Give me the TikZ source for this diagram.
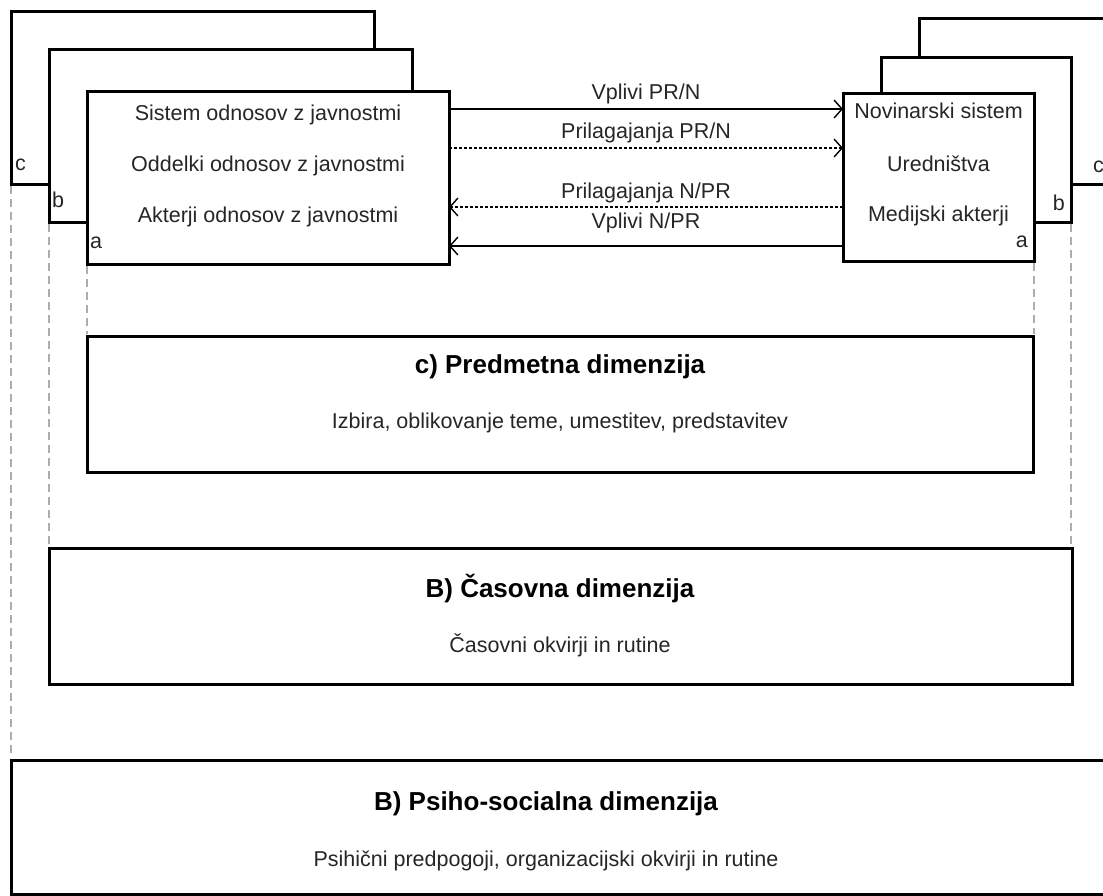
\documentclass[tikz,border=0pt]{standalone}
\usepackage{fontspec}
\setmainfont{Liberation Sans}
\usetikzlibrary{arrows.meta,calc}
\begin{document}
\begin{tikzpicture}[x=1pt,y=-1pt,
  frame/.style={draw=black, line width=3pt, fill=white, inner sep=0pt, outer sep=0pt, anchor=north west},
  guide/.style={draw=black!32, line width=1.5pt, dash pattern=on 8pt off 5pt},
  txt/.style={font=\fontsize{21.5}{24}\selectfont, inner sep=0pt, text=black!85},
  ttl/.style={font=\fontsize{26}{28}\selectfont\bfseries, inner sep=0pt, anchor=base},
  arr/.style={line width=1.4pt, -{Straight Barb[length=8pt,width=18pt,line width=1.4pt]}},
  dotarr/.style={arr, dash pattern=on 3pt off 2pt},
  lbl/.style={txt, midway, anchor=base},
]
\clip (0,0) rectangle (1103,895);
\fill[white] (0,0) rectangle (1103,895);

% dimension boxes
\node[frame, minimum width=946pt, minimum height=136pt] (pd) at (87,336) {};
\node[frame, minimum width=1023pt, minimum height=136pt] (cd) at (49,548) {};
\node[frame, minimum width=1110pt, minimum height=134pt] (psd) at (11,760) {};

% left frames
\node[frame, minimum width=363pt, minimum height=173pt] (lc) at (11,11) {};
\node[frame, minimum width=363pt, minimum height=173pt] (lb) at (49,49) {};
\node[frame, minimum width=362pt, minimum height=173pt] (la) at (87,91) {};

% right frames
\node[frame, minimum width=230pt, minimum height=166pt] (rc) at (919,18) {};
\node[frame, minimum width=190pt, minimum height=165pt] (rb) at (881,57) {};
\node[frame, minimum width=191pt, minimum height=168pt] (ra) at (843,93) {};

% guides
\draw[guide] ([yshift=-2pt]la.south west) -- ([yshift=2pt]la.south west |- pd.north);
\draw[guide] ([yshift=-2pt]ra.south east) -- ([yshift=2pt]ra.south east |- pd.north);
\draw[guide] ([yshift=-2pt]lb.south west) -- ([yshift=2pt]lb.south west |- cd.north);
\draw[guide] ([yshift=-2pt]rb.south east) -- ([yshift=2pt]rb.south east |- cd.north);
\draw[guide] ([yshift=-2pt]lc.south west) -- ([yshift=2pt]lc.south west |- psd.north);

% frame texts
\node[txt, anchor=base] (la1) at (la.north |- 0,120) {Sistem odnosov z javnostmi};
\node[txt, anchor=base] (la2) at (la.north |- 0,171) {Oddelki odnosov z javnostmi};
\node[txt, anchor=base] (la3) at (la.north |- 0,222) {Akterji odnosov z javnostmi};
\node[txt, anchor=base] (ra1) at (ra.north |- 0,118) {Novinarski sistem};
\node[txt, anchor=base] (ra2) at (ra.north |- 0,171) {Uredništva};
\node[txt, anchor=base] (ra3) at (ra.north |- 0,221) {Medijski akterji};

% corner letters
\node[txt, anchor=base west] (lcl) at (15,170) {c};
\node[txt, anchor=base west] (lbl) at (52,207) {b};
\node[txt, anchor=base west] (lal) at (90,248) {a};
\node[txt, anchor=base east] (ral) at (1028,247) {a};
\node[txt, anchor=base east] (rbl) at (1065,210) {b};
\node[txt, anchor=base west] (rcl) at (1093,172) {c};

% arrows
\draw[arr] (la.east |- 0,109) -- node[lbl, yshift=10pt] (l1) {Vplivi PR/N} (ra.west |- 0,109);
\draw[dotarr] (la.east |- 0,148) -- node[lbl, yshift=10pt] (l2) {Prilagajanja PR/N} (ra.west |- 0,148);
\draw[dotarr] (ra.west |- 0,207) -- node[lbl, yshift=9pt] (l3) {Prilagajanja N/PR} (la.east |- 0,207);
\draw[arr] (ra.west |- 0,246) -- node[lbl, yshift=18pt] (l4) {Vplivi N/PR} (la.east |- 0,246);

% dimension texts
\node[ttl] (pdt) at (560,373) {c) Predmetna dimenzija};
\node[txt, anchor=base] (pds) at (560,428) {Izbira, oblikovanje teme, umestitev, predstavitev};
\node[ttl] (cdt) at (560,597) {B) Časovna dimenzija};
\node[txt, anchor=base] (cds) at (560,652) {Časovni okvirji in rutine};
\node[ttl] (psdt) at (546,810) {B) Psiho-socialna dimenzija};
\node[txt, anchor=base] (psds) at (546,866) {Psihični predpogoji, organizacijski okvirji in rutine};
\end{tikzpicture}
\end{document}
